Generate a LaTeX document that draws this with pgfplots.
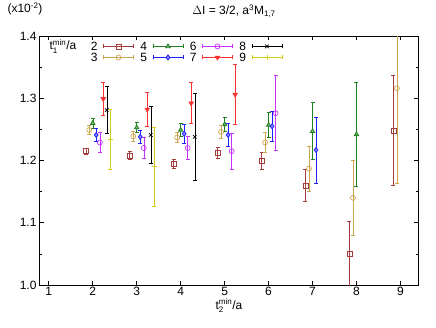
\documentclass[border=0pt]{standalone}
\usepackage{pgfplots}
\pgfplotsset{compat=1.18}
\usepackage{amsmath}
\usepackage{fontspec}
\setmainfont{Liberation Sans}

\definecolor{cbrown}{RGB}{165,60,60}
\definecolor{cgold}{RGB}{205,165,80}
\definecolor{cgreen}{RGB}{30,130,30}
\definecolor{cblue}{RGB}{30,30,255}
\definecolor{cmag}{RGB}{200,50,255}
\definecolor{cred}{RGB}{255,50,50}
\definecolor{cyel}{RGB}{210,205,20}

\begin{document}
\begin{tikzpicture}
\useasboundingbox (-40pt,-42pt) rectangle (396pt,285pt);
\begin{axis}[
    name=ax,
    scale only axis,
    width=378pt, height=249pt,
    xmin=0.8, xmax=9.4,
    ymin=1.0, ymax=1.4,
    xtick={1,2,...,9},
    ytick={1.0,1.1,1.2,1.3,1.4},
    yticklabels={1.0,1.1,1.2,1.3,1.4},
    minor y tick num=1,
    tick align=inside,
    major tick length=4pt,
    minor tick length=2pt,
    axis line style={line width=1pt},
    every tick/.style={black, line width=0.6pt},
    /pgf/number format/assume math mode=true,
    tick label style={font=\fontsize{12}{14}\selectfont},
    xticklabel style={yshift=1pt},
    clip mode=individual,
    legend columns=4,
    legend plot pos=right,
    legend style={draw=none, fill=none, at={(axis description cs:0.125,0.985)}, anchor=north west,
        font=\fontsize{12}{14}\selectfont,
        nodes={inner sep=0.5pt, text height=8pt, text depth=0pt},
        row sep=2pt,
        /tikz/every odd column/.style={column sep=5pt},
        /tikz/every even column/.style={column sep=6pt}},
    legend image code/.code={
        \draw[#1] (0pt,0pt) -- (30pt,0pt);
        \draw[#1] (0pt,-2pt) -- (0pt,2pt) (30pt,-2pt) -- (30pt,2pt);
        \draw[#1] plot coordinates {(15pt,0pt)};
    },
    every axis plot/.append style={only marks, line width=0.8pt, mark size=2.5pt,
        mark options={solid, line width=0.7pt}},
    error bars/y dir=both,
    error bars/y explicit,
    error bars/error mark options={rotate=90, mark size=2pt, line width=0.8pt},
]

% t1 = 2
\addplot[color=cbrown, mark=square] coordinates {
    (1.84,1.215) +- (0,0.005)
    (2.84,1.208) +- (0,0.0065)
    (3.84,1.194) +- (0,0.007)
    (4.84,1.212) +- (0,0.009)
    (5.84,1.199) +- (0,0.0135)
    (6.84,1.160) +- (0,0.026)
    (7.84,1.050) +- (0,0.052)
    (8.84,1.248) +- (0,0.088)
};
\addlegendentry{2}

% t1 = 4
\addplot[color=cgreen, mark=triangle*, mark options={fill=cgreen!60!white}] coordinates {
    (2,1.260) +- (0,0.008)
    (3,1.253) +- (0,0.008)
    (4,1.249) +- (0,0.011)
    (5,1.258) +- (0,0.011)
    (6,1.257) +- (0,0.020)
    (7,1.247) +- (0,0.046)
    (8,1.242) +- (0,0.083)
};
\addlegendentry{4}

% t1 = 6
\addplot[color=cmag, mark=o] coordinates {
    (2.16,1.229) +- (0,0.016)
    (3.16,1.220) +- (0,0.017)
    (4.16,1.220) +- (0,0.019)
    (5.16,1.215) +- (0,0.029)
    (6.16,1.276) +- (0,0.060)
};
\addlegendentry{6}

% t1 = 8
\addplot[color=black, mark=x] coordinates {
    (2.32,1.281) +- (0,0.038)
    (3.32,1.241) +- (0,0.046)
    (4.32,1.238) +- (0,0.070)
};
\addlegendentry{8}

% t1 = 3
\addplot[color=cgold, mark=o] coordinates {
    (1.92,1.249) +- (0,0.007)
    (2.92,1.239) +- (0,0.008)
    (3.92,1.237) +- (0,0.008)
    (4.92,1.246) +- (0,0.011)
    (5.92,1.229) +- (0,0.016)
    (6.92,1.187) +- (0,0.036)
    (7.92,1.140) +- (0,0.060)
    (8.92,1.316) +- (0,0.153)
};
\addlegendentry{3}

% t1 = 5
\addplot[color=cblue, mark=diamond*, mark options={fill=cblue!50!white}] coordinates {
    (2.08,1.241) +- (0,0.011)
    (3.08,1.238) +- (0,0.011)
    (4.08,1.243) +- (0,0.015)
    (5.08,1.241) +- (0,0.019)
    (6.08,1.255) +- (0,0.024)
    (7.08,1.217) +- (0,0.053)
};
\addlegendentry{5}

% t1 = 7
\addplot[color=cred, mark=triangle*, mark options={rotate=180, fill=cred}] coordinates {
    (2.24,1.299) +- (0,0.026)
    (3.24,1.282) +- (0,0.027)
    (4.24,1.292) +- (0,0.033)
    (5.24,1.306) +- (0,0.048)
};
\addlegendentry{7}

% t1 = 9
\addplot[color=cyel, mark=+] coordinates {
    (2.40,1.234) +- (0,0.048)
    (3.40,1.190) +- (0,0.063)
};
\addlegendentry{9}

\end{axis}
\node[anchor=base, font=\fontsize{12}{14}\selectfont] at ([xshift=5pt,yshift=21pt]ax.north) {$\Delta$I = 3/2, a$^{\text{3}}$M$_{\text{1,7}}$};
\node[anchor=base, font=\fontsize{12}{14}\selectfont] at ([xshift=-15pt,yshift=23pt]ax.north west) {(x10$^{\text{-2}}$)};
\node[anchor=base, font=\fontsize{12}{14}\selectfont] at ([yshift=-24pt]ax.south) {t$_{\text{2}}^{\text{min}}$/a};
\node[anchor=base west, font=\fontsize{12}{14}\selectfont] at ([xshift=6pt,yshift=-14pt]ax.north west) {t$_{\text{1}}^{\text{min}}$/a};
\end{tikzpicture}
\end{document}
